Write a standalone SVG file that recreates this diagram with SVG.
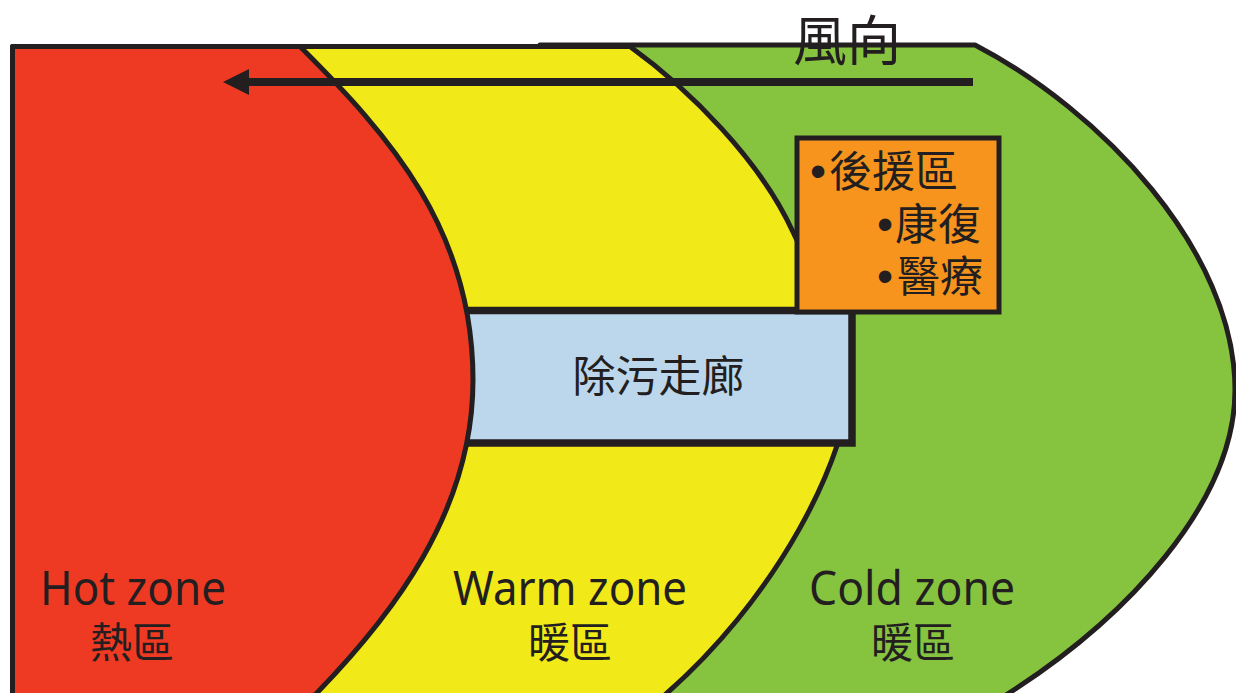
<svg xmlns="http://www.w3.org/2000/svg" width="1236" height="693" viewBox="0 0 1236 693">
  <style>
    .zone { stroke: #231f20; stroke-width: 5; stroke-linejoin: round; }
    .cjk { font-family: "Noto Sans CJK TC", "Noto Sans CJK SC", sans-serif; fill: #231f20; }
    .en { font-family: "Noto Sans", "Open Sans", sans-serif; fill: #231f20; font-size: 47px; }
    .bullet { font-family: "Liberation Sans", Arial, sans-serif; font-size: 46px; }
    .sub { font-family: "Noto Sans CJK TC", "Noto Sans CJK SC", sans-serif; font-size: 42px; }
  </style>
  <defs>
    <marker id="arrowhead" markerUnits="userSpaceOnUse" markerWidth="26" markerHeight="26" viewBox="0 0 26 26" refX="0" refY="13" orient="auto">
      <path d="M0,0 L26,13 L0,26 Z" fill="#231f20"/>
    </marker>
  </defs>
  <rect width="1236" height="693" fill="#ffffff"/>

  <g id="cold-zone">
    <path class="zone" fill="#86c440" d="M540,45 L975,45 C1100,110 1235,250 1235,390 C1235,500 1130,620 990,705 L540,705 Z"/>
  </g>

  <g id="warm-zone">
    <path class="zone" fill="#f2e918" d="M12.5,46.5 L630,46.5 C690,90 760,160 793,232 C823,297 850,320 850,380 C850,450 780,600 653,705 L12.5,705 Z"/>
  </g>

  <g id="decon-corridor">
    <rect x="440" y="310.5" width="412" height="132.5" fill="#bcd7ec" stroke="#231f20" stroke-width="7.5"/>
    <text class="cjk" x="658.5" y="391.5" font-size="43" text-anchor="middle">除污走廊</text>
  </g>

  <g id="hot-zone">
    <path class="zone" fill="#ef3a23" d="M12.5,46.5 L300,46.5 C390,136 473,230 473,380 C473,510 395,615 305,705 L12.5,705 Z"/>
  </g>

  <g id="support-area">
    <rect x="797" y="138" width="202" height="174" fill="#f7941d" stroke="#231f20" stroke-width="5"/>
    <text class="cjk" font-size="43"><tspan class="bullet" x="810" y="187">•</tspan><tspan dx="3">後援區</tspan><tspan class="bullet" x="877" y="240">•</tspan><tspan dx="2">康復</tspan><tspan class="bullet" x="877" y="292">•</tspan><tspan dx="4">醫療</tspan></text>
  </g>

  <g id="connectors">
    <path d="M973,82 L249,82" stroke="#231f20" stroke-width="8" fill="none" marker-end="url(#arrowhead)"/>
  </g>

  <g id="wind-label">
    <text class="cjk" x="847" y="61" font-size="54" text-anchor="middle">風向</text>
  </g>

  <g id="hot-label">
    <text class="en" text-anchor="middle"><tspan x="133" y="605" textLength="186" lengthAdjust="spacingAndGlyphs">Hot zone</tspan><tspan class="sub" x="132" y="658">熱區</tspan></text>
  </g>
  <g id="warm-label">
    <text class="en" text-anchor="middle"><tspan x="570" y="605" textLength="234" lengthAdjust="spacingAndGlyphs">Warm zone</tspan><tspan class="sub" x="570" y="658">暖區</tspan></text>
  </g>
  <g id="cold-label">
    <text class="en" text-anchor="middle"><tspan x="912" y="605" textLength="206" lengthAdjust="spacingAndGlyphs">Cold zone</tspan><tspan class="sub" x="913" y="658">暖區</tspan></text>
  </g>
</svg>
